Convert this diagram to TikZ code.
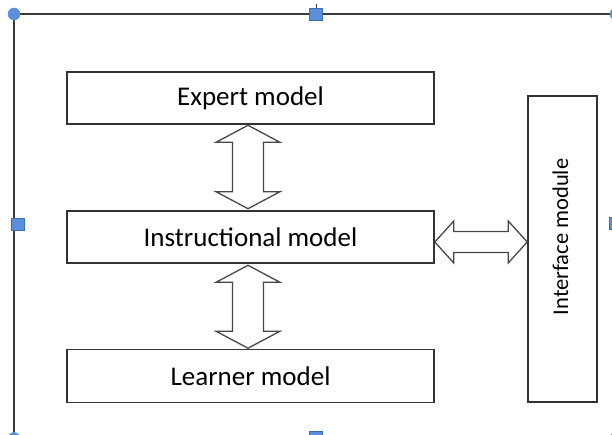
\documentclass[tikz,border=0pt]{standalone}
\usepackage{fontspec}
\setmainfont{Carlito}
\usetikzlibrary{calc}
\definecolor{handle}{HTML}{5B8FDB}
\definecolor{handleedge}{HTML}{3F6EB0}
\definecolor{frameline}{HTML}{3A3A3A}
\definecolor{boxline}{HTML}{333333}
\tikzset{
  box/.style={draw=boxline, line width=1.6pt, fill=white, inner sep=0pt,
    font=\fontsize{27}{32}\selectfont},
  blockarrow/.style={draw=boxline!90, line width=1.3pt, fill=white, line join=miter},
  framestyle/.style={draw=frameline, line width=2pt},
  sqhandle/.style={fill=handle, draw=handleedge, line width=0.8pt},
  circhandle/.style={fill=handle, draw=handle, line width=0.5pt}
}
\begin{document}
\begin{tikzpicture}[x=1pt,y=-1pt]
\useasboundingbox (0,0) rectangle (612,434);
% canvas frame with selection handles
\draw[framestyle] (14,440) -- (14,14) -- (616,14) -- (616,440);
\draw[frameline, line width=1pt] (316,4) -- (316,9);
\filldraw[sqhandle] (309.5,8) rectangle (322.5,20);
\filldraw[sqhandle] (11,218) rectangle (24,230);
\filldraw[sqhandle] (609.5,217) rectangle (622.5,229);
\filldraw[sqhandle] (309.5,431) rectangle (322.5,443);
\filldraw[circhandle] (14,14) circle (6);
\filldraw[circhandle] (616,14) circle (6);
\filldraw[circhandle] (14,438.5) circle (6);
\filldraw[circhandle] (616,438.5) circle (6);
% boxes
\node[box, minimum width=367pt, minimum height=52pt] (expert) at (250.5,98) {Expert model};
\node[box, minimum width=367pt, minimum height=52pt] (instr) at (250.5,237) {Instructional model};
\node[box, minimum width=367pt, minimum height=53pt] (learner) at (250.5,376) {Learner model};
\node[box, minimum width=69pt, minimum height=306pt] (iface) at (562.5,249) {};
\node[font=\fontsize{22.5}{27}\selectfont, rotate=90] (ifacetext) at ($(iface.center)+(-2,-12)$) {Interface module};
% arrow positions
\coordinate (ax) at (248,0);
\coordinate (ay) at (0,242);
\coordinate (t1) at ($(expert.south -| ax)+(0,0.5)$);
\coordinate (b1) at ($(instr.north -| ax)+(0,-1.5)$);
\coordinate (t2) at ($(instr.south -| ax)+(0,1.5)$);
\coordinate (b2) at ($(learner.north -| ax)+(0,-0.5)$);
\coordinate (l3) at (instr.east |- ay);
\coordinate (r3) at (iface.west |- ay);
% vertical double block arrows
\foreach \t/\b in {t1/b1, t2/b2}{
  \draw[blockarrow] (\t) -- ++(32,17) -- ++(-16.5,0) -- ($(\b)+(15.5,-17)$)
    -- ++(16.5,0) -- (\b) -- ++(-32,-17) -- ++(16.5,0) -- ($(\t)+(-15.5,17)$)
    -- ++(-16.5,0) -- cycle;
}
% horizontal double block arrow
\draw[blockarrow] (l3) -- ++(19,-21) -- ++(0,10.5) -- ($(r3)+(-19,-10.5)$)
  -- ++(0,-10.5) -- (r3) -- ++(-19,21) -- ++(0,-10.5) -- ($(l3)+(19,10.5)$)
  -- ++(0,10.5) -- cycle;
\end{tikzpicture}
\end{document}
